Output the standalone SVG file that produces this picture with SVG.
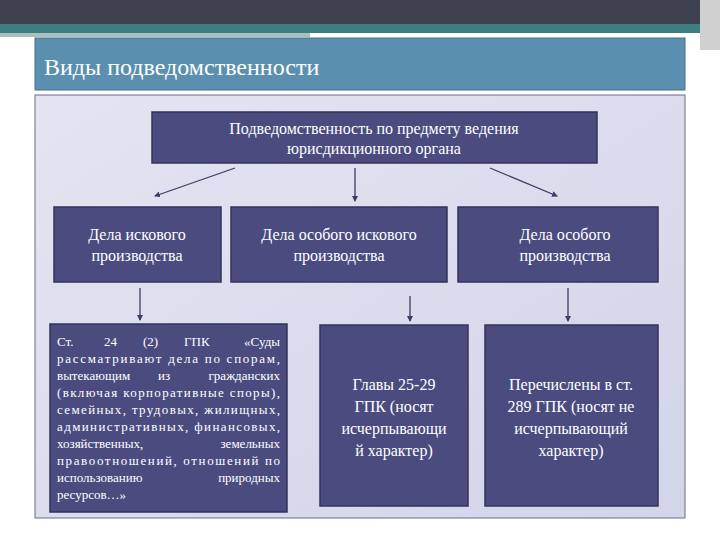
<svg xmlns="http://www.w3.org/2000/svg" width="720" height="540" viewBox="0 0 720 540">
<defs>
<linearGradient id="bg" x1="0" y1="0" x2="1" y2="1"><stop offset="0" stop-color="#e4e4f2"/><stop offset="1" stop-color="#d2d4e8"/></linearGradient>
<marker id="ah" markerWidth="6" markerHeight="6" refX="5" refY="3" orient="auto" markerUnits="userSpaceOnUse"><path d="M0,0 L6,3 L0,6 z" fill="#3c3c66"/></marker>
</defs>
<style>
.box{fill:#4b4b80;stroke:#33335a;stroke-width:1.5}
.c{stroke:#3c3c66;stroke-width:1.3;fill:none;marker-end:url(#ah)}
</style>
<rect width="720" height="540" fill="#fff"/>
<rect x="0" y="0" width="720" height="24" fill="#3e4250"/>
<rect x="0" y="24" width="720" height="9" fill="#3e7e82"/>
<rect x="0" y="33" width="310" height="4" fill="#a8c0c0"/>
<rect x="700" y="0" width="20" height="50" fill="#d0d0d0"/>
<rect x="35" y="38" width="650" height="52" fill="#5b8fb0" stroke="#466f8a"/>
<text x="44" y="75" font-family="'Liberation Serif', 'DejaVu Serif', serif" font-size="24" fill="#fff">Виды подведомственности</text>
<rect x="35" y="95" width="650" height="423" fill="url(#bg)" stroke="#6a6a8a"/>
<g font-family="'Liberation Serif', 'DejaVu Serif', serif" fill="#fff" font-size="16" text-anchor="middle">
<g id="top"><rect class="box" x="152" y="112" width="445" height="51"/>
<text x="374" y="134">Подведомственность по предмету ведения</text>
<text x="374" y="154">юрисдикционного органа</text></g>
<g id="n1"><rect class="box" x="54" y="207" width="167" height="75"/>
<text x="137" y="240">Дела искового</text><text x="137" y="261">производства</text></g>
<g id="n2"><rect class="box" x="231" y="207" width="216" height="75"/>
<text x="339" y="240">Дела особого искового</text><text x="339" y="261">производства</text></g>
<g id="n3"><rect class="box" x="458" y="207" width="200" height="75"/>
<text x="565" y="240">Дела особого</text><text x="565" y="261">производства</text></g>
<g id="b2"><rect class="box" x="320" y="325" width="148" height="181"/>
<text x="394" y="390">Главы 25-29</text><text x="394" y="412">ГПК (носят</text>
<text x="394" y="434">исчерпывающи</text><text x="394" y="456">й характер)</text></g>
<g id="b3"><rect class="box" x="485" y="325" width="173" height="181"/>
<text x="571" y="390">Перечислены в ст.</text><text x="571" y="412">289 ГПК (носят не</text>
<text x="571" y="434">исчерпывающий</text><text x="571" y="456">характер)</text></g>
</g>
<g id="b1"><rect class="box" x="50" y="324" width="237" height="188"/>
<g font-family="'Liberation Serif', 'DejaVu Serif', serif" fill="#fff" font-size="13">
<text y="346"><tspan x="57">Ст.</tspan><tspan x="104">24</tspan><tspan x="143">(2)</tspan><tspan x="184">ГПК</tspan><tspan x="280" text-anchor="end">«Суды</tspan></text>
<text x="57" y="363" textLength="223" lengthAdjust="spacing">рассматривают дела по спорам,</text>
<text y="380"><tspan x="57">вытекающим</tspan><tspan x="158">из</tspan><tspan x="280" text-anchor="end">гражданских</tspan></text>
<text x="57" y="397" textLength="223" lengthAdjust="spacing">(включая корпоративные споры),</text>
<text x="57" y="414" textLength="223" lengthAdjust="spacing">семейных, трудовых, жилищных,</text>
<text x="57" y="431" textLength="223" lengthAdjust="spacing">административных, финансовых,</text>
<text y="448"><tspan x="57">хозяйственных,</tspan><tspan x="280" text-anchor="end">земельных</tspan></text>
<text x="57" y="465" textLength="223" lengthAdjust="spacing">правоотношений, отношений по</text>
<text y="482"><tspan x="57">использованию</tspan><tspan x="280" text-anchor="end">природных</tspan></text>
<text x="57" y="499">ресурсов…»</text>
</g></g>
<g id="connectors">
<line class="c" x1="235" y1="168" x2="155" y2="196"/>
<line class="c" x1="355" y1="168" x2="355" y2="201"/>
<line class="c" x1="490" y1="168" x2="557" y2="196"/>
<line class="c" x1="140" y1="288" x2="140" y2="320"/>
<line class="c" x1="410" y1="296" x2="410" y2="321"/>
<line class="c" x1="568" y1="288" x2="568" y2="321"/>
</g>
</svg>
